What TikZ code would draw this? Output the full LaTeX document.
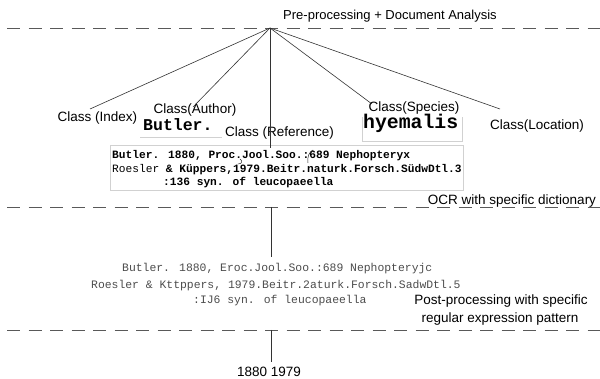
\documentclass[tikz,border=0pt]{standalone}
\usepackage{fontspec}
\setmainfont{Liberation Sans}
\newfontfamily\monofont{Liberation Mono}
\begin{document}
\begin{tikzpicture}[x=1pt,y=-1pt,
  stage/.style={draw=black!65,line width=0.9pt,dash pattern=on 13pt off 8.5pt},
  branch/.style={draw=black!80,line width=0.6pt},
  label/.style={font=\fontsize{13.5}{15}\selectfont,inner sep=0pt,anchor=base},
  scanword/.style={font=\monofont\bfseries,inner sep=0pt,anchor=base west},
  ocrline/.style={font=\monofont\bfseries\fontsize{11.2}{13}\selectfont,inner sep=0pt,anchor=base west},
  postline/.style={font=\monofont\fontsize{11.4}{13}\selectfont,text=black!70,inner sep=0pt,anchor=base west},
  scanframe/.style={draw=black!18,line width=0.6pt},
  scanmark/.style={draw=black!85,line width=0.5pt}]
\useasboundingbox (0,0) rectangle (600,379);

% stage separators
\draw[stage] (7,28) -- (600,28);
\draw[stage] (7,207) -- (600,207);
\draw[stage] (7,330) -- (600,330);

% stage captions
\node[label,font=\fontsize{13}{15}\selectfont] (pre) at (390,20) {Pre-processing + Document Analysis};
\node[label] (ocr) at (512,205) {OCR with specific dictionary};
\node[label] (post1) at (501,305) {Post-processing with specific};
\node[label] (post2) at (500,323) {regular expression pattern};

% branching point and branch ends
\coordinate (apex) at (270,28);
\coordinate (eIdx) at (90,109);
\coordinate (eAut) at (193,107);
\coordinate (eRef) at (270,148);
\coordinate (eSpe) at (372,104);
\coordinate (eLoc) at (500,109);

% class labels
\node[label] (cIdx) at (97.5,122) {Class (Index)};
\node[label] (cAut) at (195,114) {Class(Author)};
\node[label,anchor=base west] (cRef) at (225,137) {Class (Reference)};
\node[label] (cSpe) at (414,112) {Class(Species)};
\node[label] (cLoc) at (537,130) {Class(Location)};

% scanned word samples
\draw[scanframe] (140,137) -- (222,137);
\node[scanword,font=\monofont\bfseries\fontsize{16.5}{18}\selectfont] (wAut) at (143,131) {Butler.};
\draw[scanframe] (362,117) -- (362,141) -- (462,141) -- (462,117);
\node[scanword,font=\monofont\bfseries\fontsize{19.8}{21}\selectfont] (wSpe) at (363,129) {hyemalis};

% scanned reference block
\node[scanframe,minimum width=353pt,minimum height=45pt,anchor=north west,inner sep=0pt] (scan) at (110,145) {};
\node[ocrline] (s1) at (112,158.5) {Butler. 1880, Proc.Jool.Soo.:689 Nephopteryx};
\node[ocrline] (s2) at (112,172.5) {{\mdseries Roesler} \& Küppers,1979.Beitr.naturk.Forsch.SüdwDtl.3};
\node[ocrline] (s3) at (163,185.5) {:136 syn. of leucopaeella};
% pen strokes on the scan
\draw[scanmark] (308,163) .. controls (307,157) and (309,152) .. (313,150);
\draw[scanmark] (240,159) .. controls (243,161) and (242,164) .. (238,164);

% branches
\draw[branch] (apex) -- (eIdx);
\draw[branch] (apex) -- (eAut);
\draw[branch] (apex) -- (eRef);
\draw[branch] (apex) -- (eSpe);
\draw[branch] (apex) -- (eLoc);

% OCR output
\coordinate (ocrTop) at (271,207);
\coordinate (ocrEnd) at (271,257);
\draw[branch] (ocrTop) -- (ocrEnd);
\node[postline] (p1) at (122,272) {Butler. 1880, Eroc.Jool.Soo.:689 Nephopteryjc};
\node[postline] (p2) at (91,289) {Roesler \& Kttppers, 1979.Beitr.2aturk.Forsch.SadwDtl.5};
\node[postline] (p3) at (193,304) {:IJ6 syn. of leucopaeella};

% extracted years
\coordinate (yrTop) at (271,330);
\coordinate (yrEnd) at (271,362);
\draw[branch] (yrTop) -- (yrEnd);
\node[label,anchor=base west] (years) at (237,377) {1880 1979};
\end{tikzpicture}
\end{document}
